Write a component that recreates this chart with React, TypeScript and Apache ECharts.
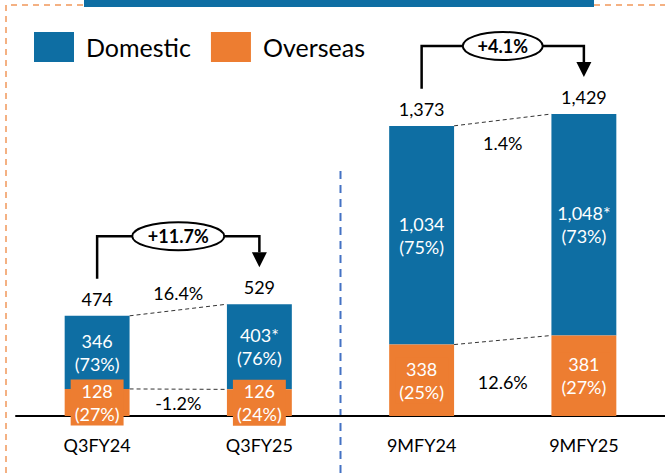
import React, { useEffect, useRef } from "react";
import * as echarts from "echarts";

// ---- data ----
const categories = ["Q3FY24", "Q3FY25", "9MFY24", "9MFY25"];
const domestic = [346, 403, 1034, 1048];
const overseas = [128, 126, 338, 381];
const totals = [474, 529, 1373, 1429];
const domesticShare = [73, 76, 75, 73];
const overseasShare = [27, 24, 25, 27];
const domesticMark = ["", "*", "", "*"];
const totalGrowth = ["+11.7%", "+4.1%"];
const domesticGrowth = ["16.4%", "1.4%"];
const overseasGrowth = ["-1.2%", "12.6%"];
const pairs = [
  [0, 1],
  [2, 3],
];

// ---- layout / style (not data) ----
const domesticGrowthAnchor = [580, 1290];
const overseasGrowthAnchor = [62, 162];
const ellipseRx = [46, 40];

const BLUE = "#0E6EA3";
const ORANGE = "#ED7D31";
const FONT = "Lato";

const fmt = (v: number) => v.toLocaleString("en-US");

export default function App() {
  const ref = useRef<HTMLDivElement>(null);

  useEffect(() => {
    if (!ref.current) return;
    const chart = echarts.init(ref.current, null, { renderer: "svg" });

    const option: any = {
      animation: false,
      textStyle: { fontFamily: FONT },
      legend: {
        data: ["Domestic", "Overseas"],
        left: 34,
        top: 32,
        padding: 0,
        itemWidth: 40,
        itemHeight: 30,
        itemGap: 20,
        icon: "rect",
        textStyle: {
          fontSize: 25,
          color: "#000",
          fontFamily: FONT,
          padding: [0, 0, 0, 7],
        },
      },
      grid: { left: 16, right: -2, top: 99, bottom: 57, containLabel: false },
      xAxis: {
        type: "category",
        data: categories,
        axisLine: { lineStyle: { color: "#000", width: 2 } },
        axisTick: { show: false },
        axisLabel: { fontSize: 18, color: "#000", margin: 20, fontFamily: FONT },
      },
      yAxis: {
        type: "value",
        min: 0,
        max: 1500,
        show: false,
        splitLine: { show: false },
      },
      series: [
        {
          name: "Overseas",
          type: "bar",
          stack: "s",
          barWidth: "40%",
          data: overseas,
          itemStyle: { color: ORANGE },
          z: 3,
          label: {
            show: true,
            position: "inside",
            color: "#fff",
            fontSize: 18,
            lineHeight: 23,
            fontFamily: FONT,
            backgroundColor: ORANGE,
            padding: [0, 4],
            formatter: (p: any) =>
              `${fmt(overseas[p.dataIndex])}\n(${overseasShare[p.dataIndex]}%)`,
          },
        },
        {
          name: "Domestic",
          type: "bar",
          stack: "s",
          barWidth: "40%",
          data: domestic,
          itemStyle: { color: BLUE },
          z: 2,
          label: {
            show: true,
            position: "inside",
            color: "#fff",
            fontSize: 18,
            lineHeight: 23,
            fontFamily: FONT,
            formatter: (p: any) =>
              `${fmt(domestic[p.dataIndex])}${domesticMark[p.dataIndex]}\n(${domesticShare[p.dataIndex]}%)`,
          },
        },
        {
          name: "Total",
          type: "scatter",
          data: totals,
          symbolSize: 0,
          silent: true,
          itemStyle: { opacity: 1, color: "#000" },
          label: {
            show: true,
            position: "top",
            distance: 7,
            color: "#000",
            fontSize: 18,
            lineHeight: 20,
            fontFamily: FONT,
            formatter: (p: any) => fmt(totals[p.dataIndex]),
          },
        },
      ],
    };

    chart.setOption(option);

    const px = (i: number, v: number) =>
      chart.convertToPixel({ seriesIndex: 0 }, [i, v]) as number[];

    const band = px(1, 0)[0] - px(0, 0)[0];
    const hw = band * 0.2;
    const graphics: any[] = [];

    // decorative frame
    graphics.push({
      type: "rect",
      shape: { x: 84, y: 0, width: 510, height: 7 },
      style: { fill: BLUE },
      silent: true,
    });
    graphics.push({
      type: "polyline",
      shape: { points: [[6, 473], [6, 5], [84, 5]] },
      style: { stroke: "#F4B183", lineWidth: 2, lineDash: [6, 5], fill: null },
      silent: true,
    });
    graphics.push({
      type: "line",
      shape: { x1: 594, y1: 5, x2: 665, y2: 5 },
      style: { stroke: "#F4B183", lineWidth: 2, lineDash: [6, 5] },
      silent: true,
    });

    // separator between the two groups
    const sepX = (px(1, 0)[0] + px(2, 0)[0]) / 2;
    graphics.push({
      type: "line",
      shape: { x1: sepX, y1: 171, x2: sepX, y2: 473 },
      style: { stroke: "#4472C4", lineWidth: 2, lineDash: [8, 6] },
      silent: true,
    });

    pairs.forEach(([a, b], k) => {
      const [xa, yTopA] = px(a, totals[a]);
      const [xb, yTopB] = px(b, totals[b]);
      const yBndA = px(a, overseas[a])[1];
      const yBndB = px(b, overseas[b])[1];
      const mid = (xa + xb) / 2;

      // dashed connectors
      graphics.push({
        type: "line",
        shape: { x1: xa + hw, y1: yTopA, x2: xb - hw, y2: yTopB },
        style: { stroke: "#333", lineWidth: 1, lineDash: [4, 3] },
        silent: true,
      });
      graphics.push({
        type: "line",
        shape: { x1: xa + hw, y1: yBndA, x2: xb - hw, y2: yBndB },
        style: { stroke: "#333", lineWidth: 1, lineDash: [4, 3] },
        silent: true,
      });

      // growth texts
      graphics.push({
        type: "text",
        x: mid,
        y: px(a, domesticGrowthAnchor[k])[1],
        style: {
          text: domesticGrowth[k],
          fill: "#000",
          font: `18px ${FONT}`,
          align: "center",
          verticalAlign: "middle",
        },
        silent: true,
      });
      graphics.push({
        type: "text",
        x: mid,
        y: px(a, overseasGrowthAnchor[k])[1],
        style: {
          text: overseasGrowth[k],
          fill: "#000",
          font: `18px ${FONT}`,
          align: "center",
          verticalAlign: "middle",
        },
        silent: true,
      });

      // arrow with ellipse
      const topMost = Math.min(yTopA, yTopB);
      const yH = topMost - 68;
      const rx = ellipseRx[k];
      const ry = 14;
      const tipY = yTopB - 37;
      const headH = 15;
      graphics.push({
        type: "polyline",
        shape: { points: [[xa, yTopA - 37], [xa, yH], [mid - rx, yH]] },
        style: { stroke: "#000", lineWidth: 2.5, fill: null },
        silent: true,
      });
      graphics.push({
        type: "polyline",
        shape: { points: [[mid + rx, yH], [xb, yH], [xb, tipY - headH]] },
        style: { stroke: "#000", lineWidth: 2.5, fill: null },
        silent: true,
      });
      graphics.push({
        type: "polygon",
        shape: {
          points: [
            [xb - 7.5, tipY - headH],
            [xb + 7.5, tipY - headH],
            [xb, tipY],
          ],
        },
        style: { fill: "#000" },
        silent: true,
      });
      graphics.push({
        type: "ellipse",
        shape: { cx: mid, cy: yH, rx, ry },
        style: { fill: "#fff", stroke: "#000", lineWidth: 2 },
        silent: true,
      });
      graphics.push({
        type: "text",
        x: mid,
        y: yH,
        style: {
          text: totalGrowth[k],
          fill: "#000",
          font: `bold 18px ${FONT}`,
          align: "center",
          verticalAlign: "middle",
        },
        silent: true,
      });
    });

    chart.setOption({ graphic: { elements: graphics } });

    return () => chart.dispose();
  }, []);

  return (
    <div
      ref={ref}
      style={{ position: "absolute", left: 0, top: 0, width: 665, height: 473, background: "#fff" }}
    />
  );
}
